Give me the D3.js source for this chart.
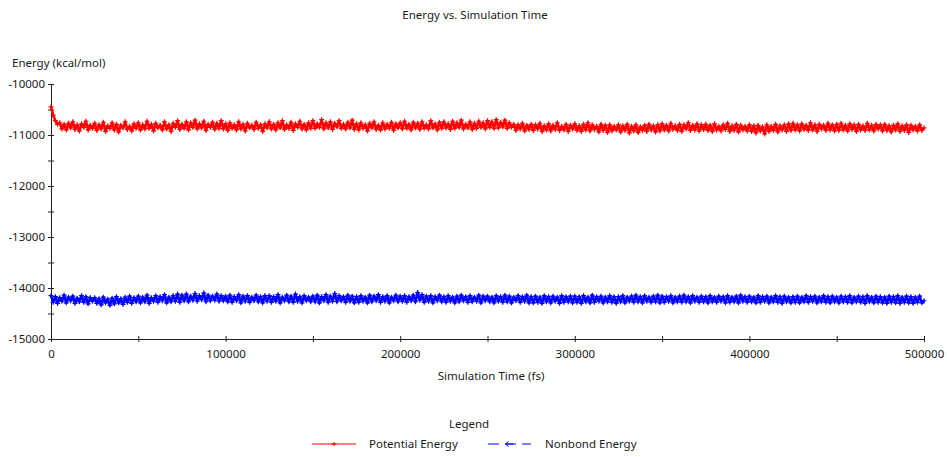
<!DOCTYPE html>
<html>
<head>
<meta charset="utf-8">
<script src="https://cdn.jsdelivr.net/npm/d3@7"></script>
<style>
  body { margin: 0; background: #fff; }
  text { font-family: "Noto Sans", "DejaVu Sans", sans-serif; fill: #1a1a1a; }
</style>
</head>
<body>
<div id="chart"></div>
<script>
// sampling interval of the trajectory (fs)
const timeStep = 1250;

const seriesNames = ['Potential Energy', 'Nonbond Energy'];
const xTicks = [0, 100000, 200000, 300000, 400000, 500000];
const yTicks = [-15000, -14000, -13000, -12000, -11000, -10000];

// Potential energy, kcal/mol, one value per timeStep
const potential = [
  -10450, -10610, -10720, -10790, -10760, -10880, -10790, -10900, -10770, -10860, -10740, -10890, -10800, -10920, -10780, -10850, -10730, -10900, -10810, -10870,
  -10770, -10910, -10800, -10880, -10750, -10930, -10820, -10870, -10760, -10900, -10790, -10940, -10810, -10860, -10740, -10890, -10830, -10920, -10780, -10870,
  -10760, -10900, -10800, -10880, -10730, -10870, -10790, -10920, -10770, -10860, -10810, -10900, -10740, -10880, -10800, -10930, -10770, -10850, -10720, -10890,
  -10790, -10870, -10740, -10900, -10760, -10850, -10710, -10880, -10780, -10860, -10730, -10910, -10790, -10850, -10750, -10890, -10770, -10870, -10720, -10880,
  -10780, -10910, -10760, -10870, -10800, -10900, -10740, -10880, -10790, -10920, -10770, -10860, -10810, -10890, -10750, -10870, -10800, -10930, -10780, -10860,
  -10740, -10880, -10790, -10900, -10760, -10860, -10720, -10890, -10800, -10870, -10750, -10910, -10780, -10850, -10730, -10880, -10790, -10900, -10760, -10870,
  -10720, -10870, -10780, -10850, -10700, -10880, -10760, -10860, -10740, -10890, -10770, -10840, -10720, -10870, -10790, -10880, -10750, -10860, -10710, -10890,
  -10780, -10900, -10760, -10870, -10800, -10920, -10770, -10860, -10740, -10890, -10810, -10900, -10760, -10880, -10790, -10870, -10750, -10910, -10780, -10860,
  -10760, -10880, -10730, -10870, -10790, -10900, -10750, -10860, -10770, -10890, -10740, -10870, -10800, -10880, -10720, -10860, -10780, -10900, -10750, -10870,
  -10740, -10860, -10780, -10890, -10730, -10870, -10760, -10850, -10710, -10880, -10790, -10860, -10740, -10890, -10770, -10870, -10730, -10850, -10760, -10880,
  -10720, -10850, -10740, -10870, -10700, -10860, -10750, -10840, -10710, -10870, -10760, -10850, -10790, -10910, -10800, -10880, -10770, -10920, -10810, -10890,
  -10790, -10910, -10800, -10880, -10770, -10930, -10820, -10900, -10780, -10920, -10810, -10890, -10760, -10910, -10830, -10900, -10790, -10930, -10810, -10880,
  -10780, -10910, -10820, -10930, -10790, -10900, -10760, -10920, -10800, -10890, -10830, -10940, -10790, -10910, -10810, -10950, -10800, -10920, -10830, -10900,
  -10800, -10940, -10820, -10910, -10790, -10960, -10830, -10920, -10800, -10950, -10840, -10910, -10810, -10930, -10790, -10900, -10820, -10940, -10800, -10920,
  -10780, -10900, -10810, -10920, -10770, -10890, -10820, -10910, -10790, -10930, -10800, -10880, -10760, -10910, -10810, -10900, -10780, -10920, -10800, -10890,
  -10790, -10910, -10810, -10930, -10780, -10900, -10830, -10920, -10800, -10890, -10770, -10930, -10820, -10910, -10790, -10940, -10810, -10900, -10830, -10920,
  -10800, -10930, -10820, -10960, -10810, -10920, -10840, -10980, -10800, -10930, -10830, -10910, -10790, -10940, -10820, -10900, -10800, -10930, -10780, -10910,
  -10770, -10900, -10800, -10920, -10780, -10890, -10810, -10910, -10760, -10900, -10800, -10930, -10790, -10880, -10810, -10910, -10770, -10900, -10800, -10920,
  -10790, -10910, -10770, -10900, -10810, -10920, -10780, -10890, -10800, -10930, -10790, -10900, -10820, -10910, -10770, -10900, -10810, -10920, -10790, -10880,
  -10800, -10920, -10790, -10910, -10820, -10940, -10810, -10900, -10780, -10930, -10820, -10910, -10800, -10950, -10810, -10900, -10830, -10920, -10800, -10910,
  -10860
];

// Nonbond energy, kcal/mol, same sampling
const nonbond = [
  -14150, -14280, -14170, -14300, -14190, -14260, -14140, -14290, -14180, -14250, -14160, -14300, -14200, -14270, -14150, -14280, -14170, -14310, -14190, -14260,
  -14190, -14300, -14210, -14330, -14180, -14290, -14220, -14340, -14200, -14310, -14170, -14290, -14210, -14320, -14180, -14280, -14160, -14300, -14190, -14270,
  -14160, -14290, -14180, -14270, -14140, -14300, -14190, -14260, -14150, -14280, -14170, -14250, -14130, -14290, -14180, -14270, -14150, -14260, -14120, -14280,
  -14140, -14250, -14120, -14270, -14160, -14240, -14110, -14260, -14150, -14230, -14100, -14270, -14140, -14250, -14160, -14240, -14120, -14260, -14150, -14250,
  -14160, -14270, -14140, -14280, -14170, -14250, -14130, -14290, -14160, -14260, -14150, -14280, -14180, -14250, -14140, -14270, -14170, -14290, -14150, -14260,
  -14150, -14280, -14170, -14260, -14130, -14290, -14180, -14250, -14140, -14270, -14160, -14280, -14120, -14260, -14170, -14290, -14150, -14250, -14180, -14270,
  -14160, -14270, -14140, -14290, -14170, -14250, -14130, -14280, -14160, -14260, -14110, -14270, -14150, -14250, -14170, -14280, -14140, -14260, -14160, -14290,
  -14170, -14280, -14150, -14260, -14180, -14290, -14140, -14270, -14160, -14250, -14130, -14280, -14170, -14260, -14150, -14290, -14180, -14250, -14140, -14270,
  -14160, -14260, -14150, -14280, -14170, -14250, -14140, -14270, -14090, -14240, -14130, -14280, -14160, -14260, -14150, -14290, -14170, -14250, -14140, -14270,
  -14170, -14280, -14150, -14260, -14180, -14290, -14160, -14270, -14140, -14250, -14170, -14280, -14150, -14270, -14180, -14260, -14140, -14290, -14160, -14250,
  -14160, -14270, -14180, -14290, -14150, -14260, -14170, -14280, -14140, -14270, -14160, -14290, -14180, -14250, -14150, -14280, -14170, -14260, -14140, -14290,
  -14170, -14290, -14160, -14280, -14180, -14300, -14150, -14270, -14170, -14290, -14160, -14260, -14180, -14300, -14150, -14280, -14170, -14270, -14160, -14290,
  -14160, -14280, -14170, -14300, -14150, -14270, -14180, -14290, -14140, -14280, -14170, -14260, -14160, -14290, -14180, -14270, -14150, -14280, -14170, -14300,
  -14170, -14270, -14150, -14290, -14180, -14260, -14160, -14280, -14140, -14270, -14170, -14290, -14150, -14260, -14180, -14280, -14160, -14270, -14140, -14290,
  -14160, -14280, -14170, -14260, -14150, -14290, -14180, -14270, -14160, -14280, -14140, -14270, -14170, -14290, -14150, -14260, -14180, -14280, -14160, -14270,
  -14170, -14290, -14150, -14270, -14180, -14280, -14160, -14260, -14170, -14290, -14150, -14280, -14180, -14270, -14160, -14290, -14140, -14260, -14170, -14280,
  -14160, -14270, -14180, -14290, -14150, -14280, -14170, -14260, -14160, -14290, -14180, -14270, -14150, -14280, -14170, -14300, -14160, -14270, -14180, -14290,
  -14170, -14280, -14160, -14290, -14180, -14270, -14150, -14280, -14170, -14260, -14160, -14290, -14180, -14270, -14150, -14280, -14170, -14290, -14160, -14270,
  -14180, -14290, -14160, -14270, -14170, -14280, -14150, -14290, -14180, -14270, -14160, -14280, -14170, -14300, -14150, -14270, -14180, -14290, -14160, -14280,
  -14170, -14290, -14180, -14300, -14160, -14280, -14170, -14290, -14150, -14300, -14180, -14280, -14160, -14290, -14170, -14300, -14180, -14280, -14160, -14290,
  -14250
];

const width = 947;
const height = 457;
const margin = {top: 84, right: 23, bottom: 118, left: 51};
const colors = ['#ff0000', '#0000ff'];
const fontSize = '11.5px';

const svg = d3.select('#chart')
  .append('svg')
  .attr('width', width)
  .attr('height', height);

const x = d3.scaleLinear()
  .domain([0, 500000])
  .range([margin.left, width - margin.right]);

const y = d3.scaleLinear()
  .domain([-15000, -10000])
  .range([height - margin.bottom, margin.top]);

// Axes: labelled every major step, unlabelled minor tick halfway
const xAxis = d3.axisBottom(x)
  .tickValues(d3.range(0, 500001, 50000))
  .tickFormat(d => xTicks.includes(d) ? d : '')
  .tickSizeInner(3)
  .tickSizeOuter(0)
  .tickPadding(8);

const yAxis = d3.axisLeft(y)
  .tickValues(d3.range(-15000, -9999, 500))
  .tickFormat(d => yTicks.includes(d) ? d : '')
  .tickSizeInner(3)
  .tickSizeOuter(0)
  .tickPadding(3);

const gx = svg.append('g')
  .attr('transform', 'translate(0,' + y(-15000) + ')')
  .call(xAxis);
gx.selectAll('.tick line').attr('y1', -3).attr('y2', 3);

const gy = svg.append('g')
  .attr('transform', 'translate(' + x(0) + ',0)')
  .call(yAxis);
gy.selectAll('.tick line').attr('x1', -3).attr('x2', 3);

svg.selectAll('.domain').attr('stroke', '#222');
svg.selectAll('.tick line').attr('stroke', '#222');
svg.selectAll('.tick text')
  .style('font-size', fontSize)
  .attr('fill', '#1a1a1a')
  .style('font-family', '"Noto Sans", "DejaVu Sans", sans-serif');

// Series lines
const series = [potential, nonbond];
const line = d3.line()
  .x((d, i) => x(i * timeStep))
  .y(d => y(d));

series.forEach((values, k) => {
  svg.append('path')
    .datum(values)
    .attr('fill', 'none')
    .attr('stroke', colors[k])
    .attr('stroke-width', 2.6)
    .attr('stroke-linejoin', 'round')
    .attr('d', line);

  svg.append('g')
    .selectAll('path')
    .data(values)
    .enter()
    .append('path')
    .attr('transform', (d, i) => 'translate(' + x(i * timeStep) + ',' + y(d) + ')')
    .attr('d', 'M-2.5,0H2.5M0,-2.5V2.5')
    .attr('stroke', colors[k])
    .attr('stroke-width', 1.2);
});

// Titles
svg.append('text')
  .attr('x', 475)
  .attr('y', 19)
  .attr('text-anchor', 'middle')
  .style('font-size', fontSize)
  .text('Energy vs. Simulation Time');

svg.append('text')
  .attr('x', 12)
  .attr('y', 67)
  .style('font-size', fontSize)
  .text('Energy (kcal/mol)');

svg.append('text')
  .attr('x', 491)
  .attr('y', 380)
  .attr('text-anchor', 'middle')
  .style('font-size', fontSize)
  .text('Simulation Time (fs)');

// Legend
svg.append('text')
  .attr('x', 469)
  .attr('y', 428)
  .attr('text-anchor', 'middle')
  .style('font-size', fontSize)
  .text('Legend');

const legendItems = [
  {x1: 312, x2: 356, tx: 369, dash: null},
  {x1: 488, x2: 531, tx: 545, dash: '11,6'}
];

legendItems.forEach((item, k) => {
  const g = svg.append('g');
  g.append('line')
    .attr('x1', item.x1)
    .attr('x2', item.x2)
    .attr('y1', 444)
    .attr('y2', 444)
    .attr('stroke', colors[k])
    .attr('stroke-width', 1)
    .attr('stroke-dasharray', item.dash);
  const mid = (item.x1 + item.x2) / 2;
  g.append('path')
    .attr('transform', 'translate(' + mid + ',444)')
    .attr('d', k === 0 ? 'M-2.5,0H2.5M0,-2V2' : 'M-4,0H4M-4,0L-1,-2.5M-4,0L-1,2.5')
    .attr('fill', 'none')
    .attr('stroke', colors[k])
    .attr('stroke-width', 1);
  g.append('text')
    .attr('x', item.tx)
    .attr('y', 448)
    .style('font-size', fontSize)
    .text(seriesNames[k]);
});
</script>
</body>
</html>
